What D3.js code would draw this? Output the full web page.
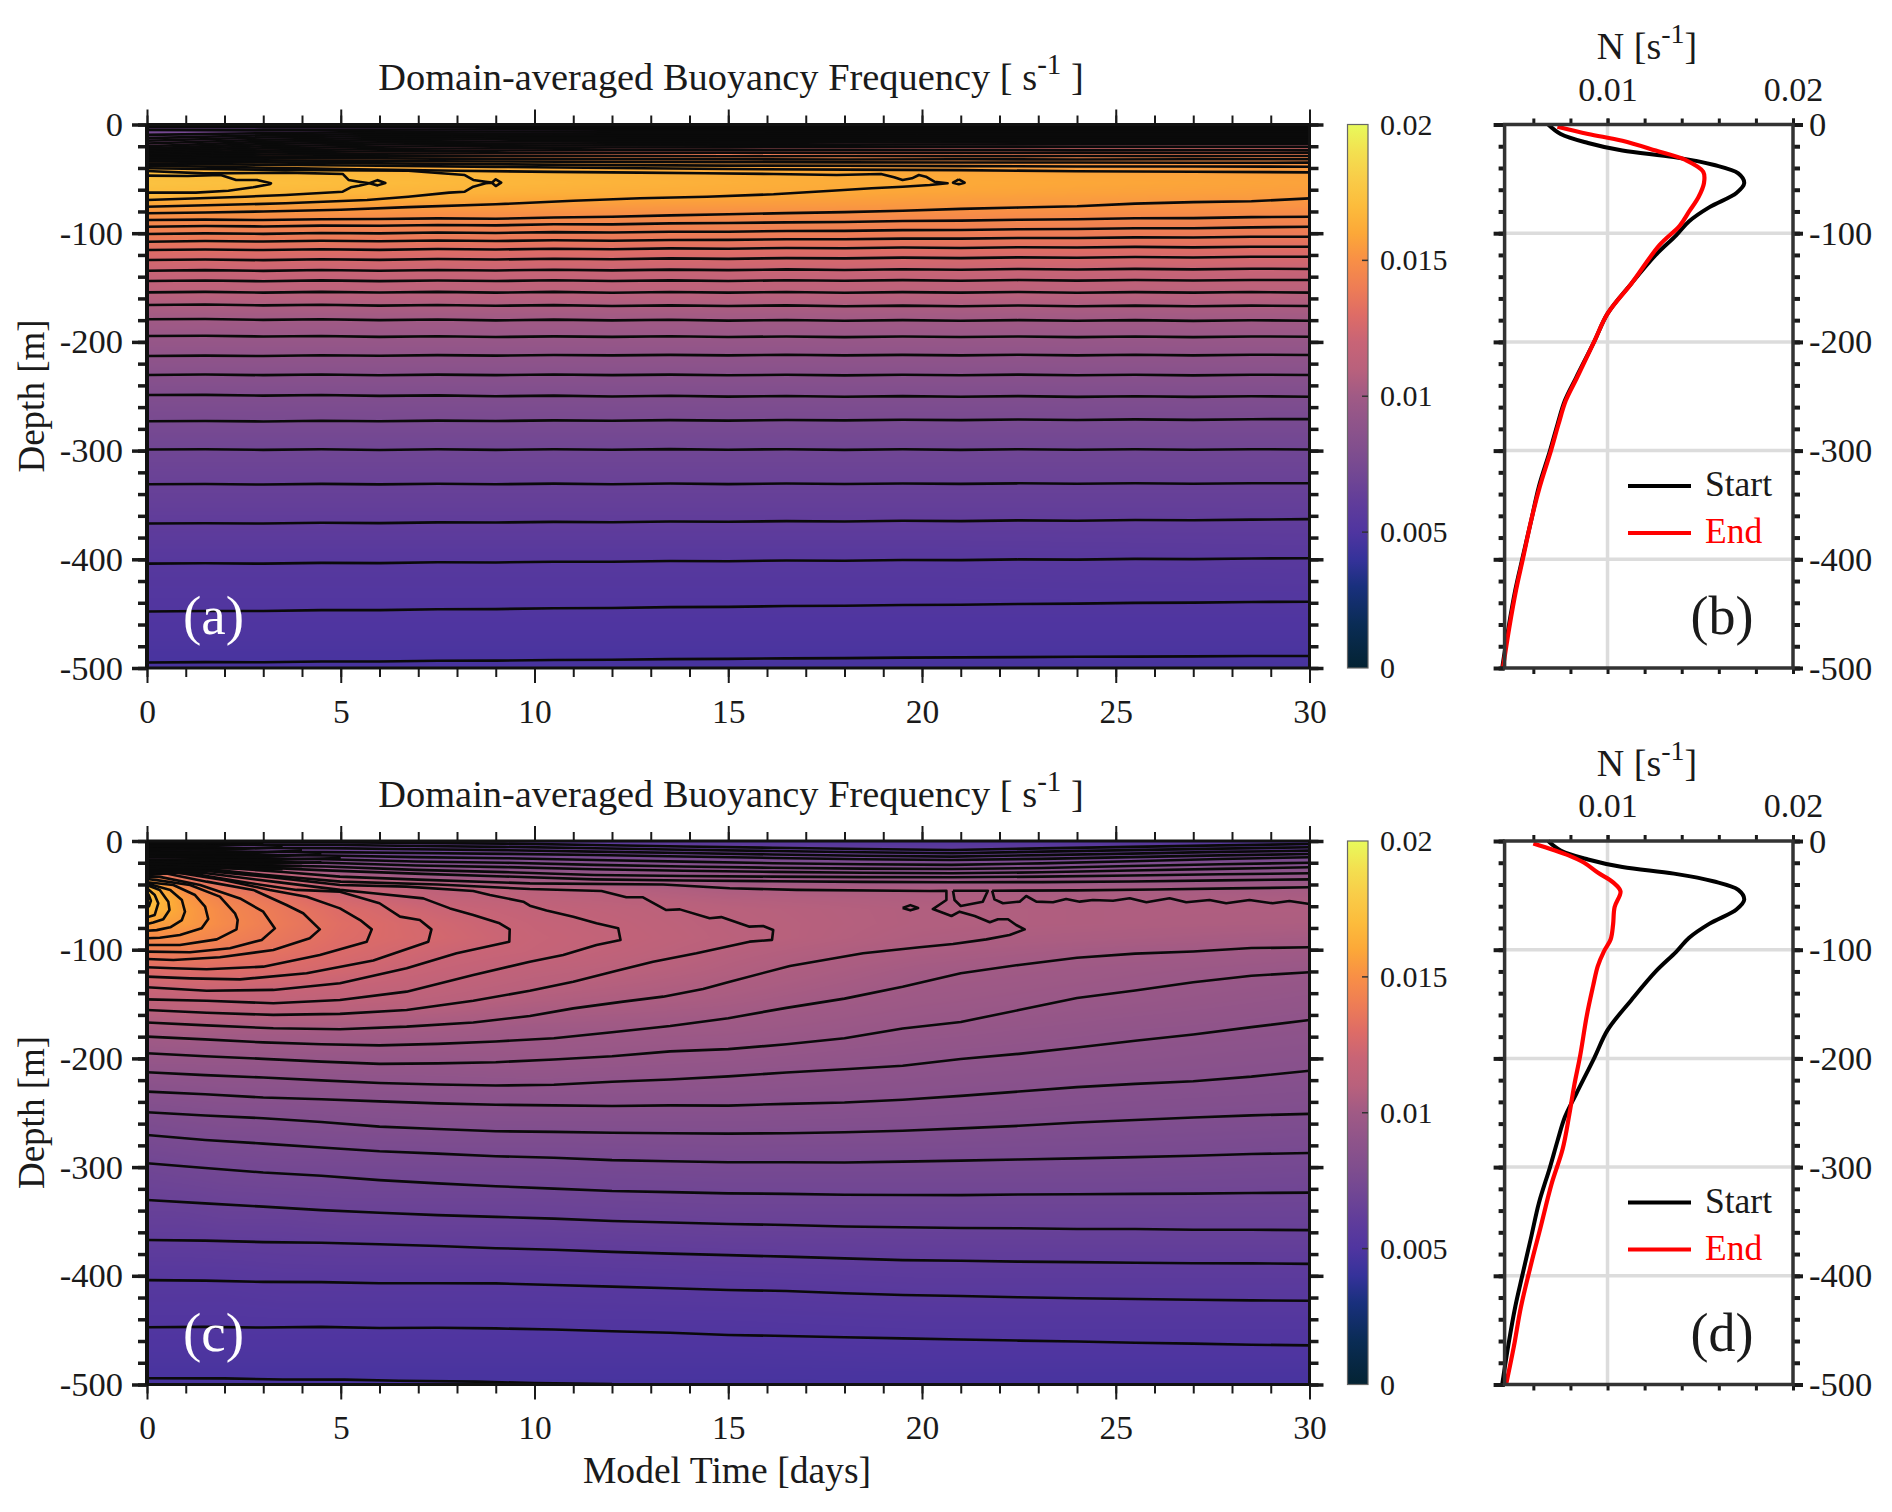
<!DOCTYPE html>
<html>
<head>
<meta charset="utf-8">
<title>Domain-averaged Buoyancy Frequency</title>
<script src="https://d3js.org/d3.v7.min.js"></script>
<style>
body { margin: 0; background: #fff; }
text { font-family: "Liberation Serif", serif; fill: #1a1a1a; }
.ticks path { display: none; }
</style>
</head>
<body>
<script>
// axis ticks
var timeMajor = [0, 5, 10, 15, 20, 25, 30];
var timeMinor = d3.range(0, 31);
var depthMajor = [0, -100, -200, -300, -400, -500];
var depthMinor = d3.range(0, -501, -20);
var cbarTicks = [0, 0.005, 0.01, 0.015, 0.02];
var profileMajor = [0.01, 0.02];
var profileMinor = [0.006, 0.008, 0.01, 0.012, 0.014, 0.016, 0.018, 0.02];

// colours of the colormap, by N
var cmapN = [0, 0.0016, 0.003, 0.004, 0.005, 0.006, 0.007, 0.008, 0.009, 0.01, 0.011, 0.012, 0.013, 0.014, 0.015, 0.016, 0.017, 0.018, 0.019, 0.02];
var cmapColor = ["#042333", "#0a2c55", "#19307d", "#35329a", "#4f35a0", "#5f3c9b", "#704694", "#804e8e", "#8f548a", "#a05a85", "#b9617c", "#c86476", "#de6c66", "#ee7d55", "#f88f46", "#fca838", "#fcbc3c", "#f9cc48", "#f3e050", "#e8fa5b"];

// N field, one array per time, on these depths
var fieldDepths = [0, -10, -17, -24, -30, -37, -45, -54, -63, -76, -89, -102, -120, -146, -174, -200, -250, -300, -350, -400, -450, -500];
var fieldTimesA = [0, 10, 20, 30];
var fieldA0 = [.0068, .0075, .009, .0108, .0136, .0157, .01705, .0174, .017, .0156, .0147, .014, .0128, .0115, .0102, .0094, .008, .007, .0063, .0055, .0051, .0047];
var fieldA10 = [.0066, .0085, .0105, .0128, .0146, .016, .0166, .0167, .0164, .0154, .0146, .0139, .0128, .0115, .0102, .0094, .008, .007, .0063, .0055, .0051, .0047];
var fieldA20 = [.0067, .0092, .0112, .0131, .0146, .0155, .016, .0161, .0159, .0153, .0145, .0139, .0128, .0115, .0102, .0094, .008, .007, .0063, .0055, .0051, .0047];
var fieldA30 = [.007, .0095, .0115, .0133, .0145, .0152, .0157, .0158, .0156, .0151, .0144, .0138, .0127, .0114, .0102, .0094, .008, .007, .0063, .0056, .0051, .0047];

var fieldTimesC = [0, 1, 2, 3.5, 5, 7.5, 10, 15, 20, 25, 30];
var fieldC0 = [.0068, .0075, .009, .0108, .0136, .0157, .01705, .0174, .017, .0156, .0147, .014, .0128, .0115, .0102, .0094, .008, .007, .0063, .0055, .0051, .0047];
var fieldC1 = [.0067, .0078, .0097, .0118, .0128, .0137, .0148, .0154, .0156, .0155, .0148, .014, .0129, .0116, .0103, .0094, .0081, .0071, .0063, .0055, .0051, .0047];
var fieldC2 = [.0066, .0076, .009, .0108, .0119, .0129, .0137, .0143, .0146, .0147, .0143, .0137, .0129, .0116, .0102, .0094, .0082, .0072, .0064, .0055, .0051, .0047];
var fieldC35 = [.0065, .0073, .0084, .0098, .0113, .0123, .013, .0134, .0137, .0138, .0136, .0133, .0127, .0115, .0102, .0094, .0082, .0073, .0064, .0056, .0051, .0047];
var fieldC5 = [.0064, .007, .0079, .0091, .0102, .0113, .0121, .0125, .0129, .0131, .013, .0128, .0124, .0114, .0102, .0094, .0083, .0073, .0065, .0056, .0051, .0047];
var fieldC75 = [.0063, .0068, .0076, .0086, .0095, .0105, .0113, .0117, .0121, .0124, .0125, .0122, .0118, .0111, .0101, .0094, .0084, .0073, .0065, .0056, .0051, .0047];
var fieldC10 = [.0056, .007, .0079, .0087, .0094, .0102, .0111, .0113, .0116, .0118, .0119, .0118, .0113, .0107, .0099, .0095, .0084, .0073, .0065, .0056, .0051, .0047];
var fieldC15 = [.0055, .0067, .0077, .0087, .0093, .0099, .0105, .0108, .011, .01105, .0111, .0109, .0107, .0103, .0098, .0093, .0084, .0074, .0066, .0057, .0051, .0047];
var fieldC20 = [.0052, .0062, .0074, .0083, .009, .0099, .0105, .0106, .0107, .0107, .0106, .0104, .0101, .0098, .0094, .009, .0083, .0074, .0066, .0058, .0052, .0047];
var fieldC25 = [.0052, .0064, .0075, .0084, .009, .0097, .0104, .0105, .0106, .0106, .0104, .0101, .0098, .0095, .0091, .0088, .0081, .0074, .0066, .0058, .0052, .0047];
var fieldC30 = [.0052, .0067, .0077, .0085, .009, .0096, .0102, .0104, .0106, .0105, .0102, .0099, .0095, .0092, .0089, .0086, .008, .0073, .0066, .0058, .0052, .0047];

// panel (a) contour depths, evenly spaced in time over 0-30 days
var contoursA = [
  [-87.9,-87.5,-87.9,-87.1,-86.9,-86.4,-86.7,-85.6,-84.9,-83.6,-82.6,-81.5,-80.6,-79.4,-77.6,-76.4,-75.2,-72.8,-71.4,-70.6,-68],
  [-94,-93.4,-93.8,-93,-93.2,-92.4,-92.8,-91.8,-91.9,-91,-90.6,-90,-89.7,-88.8,-88.4,-87.6,-87.2,-86.3,-86.1,-85.2,-84.8],
  [-100.7,-100.2,-100.6,-99.8,-100.2,-99.4,-99.8,-99,-99.4,-98.6,-98.6,-98,-97.9,-97.2,-97,-96.3,-96.2,-95.4,-95.4,-94.6,-94],
  [-107.8,-107.2,-107.7,-107,-107.4,-106.7,-107.2,-106.5,-106.9,-106.2,-106.1,-105.6,-105.6,-105,-105,-104.4,-104.4,-103.8,-103.9,-103.2,-103.2],
  [-115.5,-115,-115.5,-114.8,-115.3,-114.6,-115,-114.3,-114.8,-114,-114.3,-113.6,-113.9,-113.2,-113.6,-112.9,-113.2,-112.6,-113,-112.4,-112.4],
  [-124.7,-124.2,-124.8,-124,-124.5,-123.8,-124.2,-123.5,-124,-123.2,-123.6,-122.9,-123.2,-122.5,-122.9,-122.2,-122.6,-121.9,-122.3,-121.6,-121.6],
  [-134.5,-134,-134.7,-133.9,-134.5,-133.8,-134.3,-133.6,-134.2,-133.5,-134,-133.3,-133.8,-133.1,-133.6,-132.9,-133.4,-132.8,-133.3,-132.7,-132.9],
  [-144,-143.5,-144.2,-143.4,-144.1,-143.5,-144,-143.3,-144,-143.4,-144,-143.3,-143.8,-143.2,-143.7,-143.1,-143.6,-143,-143.5,-143,-143],
  [-154.4,-154,-154.7,-154,-154.6,-154,-154.7,-154,-154.8,-154.1,-154.7,-154.1,-154.8,-154.2,-154.7,-154.1,-154.8,-154.2,-154.7,-154.1,-154.7],
  [-166,-165.6,-166.4,-165.8,-166.6,-166,-166.8,-166.2,-167,-166.4,-167,-166.4,-167.2,-166.6,-167.2,-166.5,-167.2,-166.6,-167.2,-166.6,-167],
  [-179.2,-178.9,-179.7,-179.2,-180,-179.4,-180.2,-179.5,-180.2,-179.6,-180.4,-179.8,-180.5,-180,-180.6,-180,-180.6,-180,-180.7,-180.1,-180.5],
  [-194.6,-194.3,-195,-194.6,-195.4,-194.8,-195.5,-194.9,-195.4,-194.8,-195.5,-195,-195.6,-195,-195.5,-195,-195.6,-195,-195.6,-195,-195.2],
  [-213,-212.6,-213,-212.3,-212.8,-212.2,-212.6,-212,-212.4,-211.9,-212.4,-211.8,-212.4,-211.9,-212.4,-211.8,-212.4,-211.8,-212.4,-211.8,-212],
  [-230.4,-230,-230.6,-230,-230.7,-230.1,-230.6,-230,-230.6,-230.1,-230.7,-230.2,-230.8,-230.2,-230.7,-230.1,-230.7,-230.2,-230.8,-230.2,-230.4],
  [-248.9,-248.7,-249.4,-248.9,-249.7,-249.2,-250,-249.4,-250.2,-249.6,-250.3,-249.8,-250.5,-249.9,-250.5,-249.9,-250.6,-250,-250.6,-250,-250.4],
  [-273,-272.7,-273.2,-272.5,-273,-272.4,-272.8,-272.2,-272.6,-272,-272.4,-271.8,-272.2,-271.6,-272,-271.4,-271.8,-271.3,-271.7,-271.1,-271],
  [-299,-298.7,-299.3,-298.8,-299.4,-298.8,-299.3,-298.7,-299.2,-298.6,-299.2,-298.7,-299.3,-298.8,-299.3,-298.7,-299.2,-298.7,-299.2,-298.7,-299],
  [-331,-330.7,-331.2,-330.6,-331.1,-330.5,-331,-330.4,-330.9,-330.3,-330.8,-330.2,-330.7,-330.2,-330.6,-330.1,-330.5,-330,-330.5,-330,-330],
  [-367,-366.8,-367.1,-366.4,-366.7,-366,-366.2,-365.6,-365.9,-365.2,-365.5,-364.9,-365.2,-364.6,-364.9,-364.2,-364.5,-363.9,-364.1,-363.5,-363],
  [-404,-403.7,-404,-403.3,-403.5,-402.7,-402.9,-402.2,-402.3,-401.6,-401.8,-401.1,-401.3,-400.6,-400.8,-400.1,-400.3,-399.6,-399.8,-399.2,-399],
  [-448,-447.5,-447.6,-446.8,-446.8,-445.9,-445.8,-445,-444.8,-444,-443.8,-443,-442.8,-442,-441.8,-441.1,-440.8,-440.1,-439.9,-439.3,-439],
  [-495,-494.6,-494.7,-494,-494,-493.3,-493.2,-492.6,-492.4,-491.8,-491.6,-491.1,-490.9,-490.5,-490.2,-490,-489.7,-489.5,-489.3,-489,-489],
  // the tight lines under the surface
  [-36,-37,-38,-39,-40,-41,-41.5,-42,-43,-43.5,-44],
  [-34,-34.8,-35.8,-36.6,-37.4,-37.8,-38,-38.3,-38.6,-38.6,-38.8],
  [-32.5,-33,-33.6,-34,-34.4,-34.6,-34.8,-35,-35,-35.2,-35.1],
  [-31,-31,-31.2,-31.6,-31.8,-32,-32.2,-32,-32.2,-32,-32],
  [-29.8,-29.4,-29,-29,-29,-29.2,-29,-29.2,-29,-29.1,-29],
  [-28.8,-27.6,-26.8,-26.4,-26.2,-26,-26,-26.1,-25.9,-26,-25.9],
  [-27.6,-25.8,-24.6,-24,-23.6,-23.6,-23.4,-23.5,-23.4,-23.5,-23.5],
  [-26.4,-24,-22.6,-21.8,-21.2,-21,-20.8,-20.6,-20.5,-20.4,-20.4],
  [-25,-22,-20.4,-19.6,-19.2,-19,-18.6,-18.4,-18.2,-18,-18],
  [-23.5,-20,-18.4,-17.6,-17.2,-17,-16.6,-16.4,-16.2,-16,-16],
  [-22,-18,-16.4,-15.6,-15.2,-15,-14.8,-14.6,-14.5,-14.5,-14.5],
  [-20,-16,-14.4,-13.6,-13.2,-13.2,-13.1,-13,-13,-13,-13],
  [-17.5,-14,-12.4,-11.8,-11.6,-11.5,-11.5,-11.5,-11.5,-11.5,-11.5],
  [-15,-12,-10.6,-10.2,-10,-10,-10,-10,-10,-10,-10],
  [-12.5,-10,-8.8,-8.4,-8.2,-8.2,-8.2,-8,-8,-8,-8],
  [-9.5,-8,-6.8,-6.4,-6.2,-6.2,-6,-6,-6,-6,-6],
  [-5,-5.4,-4.8,-4.4,-4.2,-4.2,-4,-4,-4,-4,-4],
  [-2.5,-2.6,-2.4,-2.2,-2.2,-2,-2,-2,-2,-2,-2]
];

// panel (a) contours that close, as [day, depth]
var closedA = [
  [[0,-47],[1.05,-47.4],[1.9,-46.5],[2.3,-51],[2.84,-51],[3.2,-54.1],[3.16,-55],[2.74,-57.8],[2.1,-60.9],[1.26,-62.7],[0,-62.7]],
  [[0,-42.8],[1.47,-45],[3.58,-44.3],[5.05,-45.5],[5.2,-51],[5.47,-52.6],[5.74,-54.1],[5.95,-51.2],[6.15,-53.8],[5.95,-56],[5.74,-54.1],[5.47,-56.3],[5.26,-57.8],[5.05,-61.8],[3.58,-64.9],[2.53,-66.4],[0,-69.5]],
  [[0,-40.3],[3.58,-41.9],[6.74,-42.5],[8.2,-46.5],[8.42,-51],[8.74,-52.6],[8.9,-53.5],[9,-50.4],[9.14,-53.5],[9,-56.6],[8.9,-53.5],[8.74,-54.1],[8.42,-57.2],[8.2,-61.8],[7.8,-62.7],[6.74,-66.4],[5.68,-69.5],[3.58,-72.5],[0,-75.6]],
  [[0,-38],[2,-39],[5,-41],[8,-42.6],[10.5,-43.6],[12.7,-44.3],[14.4,-44.9],[16.17,-45.5],[17.8,-46.5],[18.94,-45.5],[19.28,-48.6],[19.5,-51],[19.74,-49.5],[19.92,-46.5],[20.1,-48],[20.32,-52.6],[20.66,-54.1],[20.2,-55.7],[19.5,-57.2],[18.7,-58.7],[17.67,-60.9],[16.17,-64.2],[14.45,-66.4],[12.72,-67.9],[11,-70.2],[9,-73.4],[6.74,-76],[5,-78.4],[3,-80],[1.5,-81],[0,-81.7]],
  [[20.95,-50.5],[21.1,-53.5],[20.95,-55],[20.8,-53.5],[20.95,-50.5]]
];

// panel (c) contours, evenly spaced in time over 0-30 days
var contoursC = [
  [-180,-182.5,-185.3,-187,-188,-186.6,-184.4,-181.5,-176,-170.2,-163,-153.5,-145,-134,-121.6,-114,-107.4,-103.6,-101.6,-98.5,-97.8],
  [-195.3,-198,-200.4,-203,-205,-204.6,-203.5,-201,-198,-193.5,-191.5,-187,-181.5,-172.5,-166.5,-155.5,-144.5,-137.5,-130,-124,-120.8],
  [-212.8,-215.4,-217.6,-220.2,-222.6,-224,-225,-224.2,-221.5,-219.4,-216.5,-213,-210,-206.8,-200.5,-195.8,-190,-183.8,-178,-171.2,-164.7],
  [-230.6,-233,-236,-237.6,-239.5,-241.4,-242.6,-243.2,-243.8,-243.2,-243.4,-241.8,-240.6,-238,-234.5,-230.5,-226.4,-223.4,-221,-216.8,-211.3],
  [-249.6,-252.5,-255,-258.5,-262.8,-265,-267,-267.6,-268.4,-268.8,-269.2,-268.8,-268,-266.6,-264.4,-262,-259,-256.6,-254.4,-252.4,-251],
  [-270.5,-275,-278.4,-282,-285.4,-287.6,-290,-291.4,-293.6,-294.6,-295.6,-295.6,-295.8,-295,-294,-293,-292,-290.8,-289.6,-288,-287],
  [-296.5,-300.8,-305,-308,-312,-315,-317.6,-319.8,-322,-323,-324.2,-324.6,-325.4,-325.6,-325.8,-325.2,-325,-324.6,-324.4,-323.8,-323.5],
  [-330.3,-333.4,-336.4,-339.6,-342,-344.2,-345.8,-347.4,-349.6,-351,-352.4,-353.2,-354.6,-355.4,-356,-356.2,-357,-357,-357.6,-357.6,-358],
  [-367,-367.6,-369,-369.6,-371,-372.6,-374.6,-376,-378,-379.6,-381,-382.4,-384,-385.6,-386.2,-387,-387.4,-388,-388.4,-388.6,-389],
  [-404,-404.4,-405.6,-405.8,-406.8,-406.8,-407,-408.4,-410,-411.4,-413,-414,-416,-417.6,-418.6,-419.8,-420.6,-421.4,-422,-422.6,-423],
  [-447.4,-447,-447.6,-447,-448,-447.8,-448.4,-449.4,-451,-452.4,-454.4,-455.4,-456.6,-457.6,-458.6,-459.6,-460.4,-461.6,-462.4,-463.4,-464],
  // the tight lines under the surface
  [-22,-23.5,-27,-30,-32.6,-35.3,-36.4,-37,-37.6,-38,-37.8,-37.2,-36.2,-35.3],
  [-20,-22,-23.5,-26.6,-28.6,-31.3,-32.2,-32.8,-33.2,-33.4,-32.8,-31.8,-30.6,-29.7],
  [-17.5,-19,-20,-22.6,-24,-26,-27.4,-28.4,-29.2,-29.7,-28.8,-27.2,-25.6,-24.2],
  [-15,-15.8,-16.8,-18.8,-20,-22,-23.4,-24.6,-25.4,-25.8,-24.8,-23,-21.4,-20],
  [-12.5,-12.8,-13.4,-14.8,-15.8,-17.5,-19,-20.4,-21.4,-22,-20.6,-18.6,-16.6,-15],
  [-9.5,-9.8,-10.2,-11,-11.8,-12.9,-14.2,-15.6,-16.8,-17.5,-16.4,-14.8,-13.2,-12],
  [-6,-6.4,-6.6,-7.6,-8.4,-9.8,-11,-12.4,-13.6,-14.4,-13,-11.6,-10,-8.9],
  [-3,-3.4,-3.5,-4.6,-5.4,-6.7,-8,-9.2,-10.4,-11.3,-9.8,-8.4,-7,-5.8],
  [-1,-1,-1,-1.8,-2.4,-3.7,-5,-6.2,-7.4,-8.3,-6.8,-5.4,-4,-2.8]
];

// panel (c) contours that close, as [day, depth]
var closedC = [
  [[0,-47],[0.05,-50],[0.1,-55],[0.05,-60],[0,-62]],
  [[0,-43.5],[0.2,-49.7],[0.29,-57.3],[0.2,-68],[0,-70.2]],
  [[0,-40.5],[0.33,-45],[0.55,-55.8],[0.58,-63.5],[0.42,-72],[0.16,-75],[0,-76.4]],
  [[0,-39],[0.6,-45],[0.9,-54.3],[0.98,-65],[0.9,-72.7],[0.6,-79.4],[0.25,-82],[0,-82.5]],
  [[0,-38],[0.68,-40.5],[1.24,-49.7],[1.5,-60.4],[1.58,-71.8],[1.41,-80.3],[0.85,-86.5],[0.33,-89],[0,-89.5]],
  [[0,-35],[0.25,-36],[1.11,-40.5],[1.88,-51.2],[2.27,-66.5],[2.34,-72.7],[2.31,-81.3],[1.8,-90.5],[0.85,-95.7],[0,-95.7]],
  [[0,-33],[0.33,-33],[1.37,-40.5],[2.4,-52.8],[3,-65],[3.3,-80.4],[2.96,-91],[2.14,-98.7],[1.11,-102.4],[0,-101.8]],
  [[0,-31.5],[0.5,-29.9],[1.54,-37.4],[2.74,-45],[3.6,-58.9],[4.03,-66.5],[4.46,-81.3],[4.2,-89.5],[3.26,-100.3],[1.88,-107],[0.68,-109.5],[0,-108.6]],
  [[0,-30],[0.68,-28.4],[1.97,-35.9],[3.17,-45],[4.12,-51.2],[4.98,-62],[5.5,-72.7],[5.8,-81.3],[5.67,-92.6],[4.46,-104.9],[3,-115.6],[1.54,-118],[0.68,-117],[0,-116.2]],
  [[0,-28.6],[1.11,-29.7],[2.4,-37.4],[3.86,-45],[4.98,-46.6],[6,-57.3],[6.53,-69.6],[7.04,-72.7],[7.34,-81.3],[7.26,-92.6],[5.84,-110],[4.12,-121.7],[2.4,-127.3],[1.11,-126.4],[0,-124.8]],
  [[0,-28],[1.54,-29.7],[3.26,-37.4],[4.98,-45],[5.84,-48],[7.13,-52.8],[7.82,-62],[8.42,-68],[9.1,-75.7],[9.36,-81.3],[9.35,-92.6],[7.99,-103.3],[6.7,-117],[4.98,-130.9],[3.26,-137],[1.54,-137.7],[0,-134.6]],
  [[0,-27],[1.54,-27.5],[3.26,-33.5],[4.98,-40.5],[6.7,-42],[8.42,-46],[8.85,-49.7],[9.71,-55.8],[9.88,-59.5],[10.31,-64],[11,-69.6],[11.6,-75.7],[12.16,-80.3],[12.22,-91],[11.6,-95.7],[10.74,-104.9],[9.88,-111],[8.42,-123.3],[6.7,-138.6],[4.98,-146.3],[3.26,-149.3],[1.54,-146.9],[0,-145.7]],
  [[0,-26],[1.5,-25.5],[3,-31],[5,-37.4],[7.5,-40],[9.88,-44.2],[11.73,-46],[12.37,-51.8],[12.8,-51.8],[13.4,-63.5],[13.75,-62.9],[14.52,-71],[14.82,-70],[15.55,-78.8],[15.9,-78.2],[16.16,-81.9],[16.13,-91],[15.55,-92.6],[14.18,-103.3],[13.06,-111],[12.12,-119.3],[11,-129.4],[9.88,-137.7],[8.42,-147],[6.7,-155.5],[4.98,-159],[3.26,-160],[1.54,-158],[0,-155.5]],
  [[0,-25],[2,-24.5],[3.5,-28.5],[4.98,-32.8],[7,-35.5],[9.88,-39],[13.32,-40],[15.04,-43.5],[16.76,-45],[20.2,-46],[20.63,-45.7],[20.63,-54.3],[20.28,-62.6],[20.76,-69],[20.97,-65],[21.36,-69],[21.75,-74.8],[21.96,-72],[22.22,-72],[22.43,-77.3],[22.65,-81.3],[22.26,-86.5],[21.66,-90.5],[20.8,-94.8],[19.94,-97.8],[18.48,-103.3],[16.59,-115],[15.04,-129.4],[14.35,-136.2],[13.32,-143.2],[12.29,-147.8],[11,-154],[9.88,-161],[8.42,-167],[6.7,-170.8],[4.98,-173.2],[3.26,-172.3],[1.54,-169.6],[0,-167]],
  [[20.8,-45.7],[21.7,-45.7],[21.57,-55.8],[21,-59.8],[20.84,-54.3],[20.8,-45.7]],
  [[21.81,-45.7],[21.87,-53.7],[22.09,-57.3],[22.52,-55.8],[22.69,-50.6],[22.95,-55.8],[23.38,-56.4],[23.72,-53.4],[24.07,-55.8],[24.41,-54.3],[24.93,-54.9],[25.36,-52.7],[25.79,-56.4],[26.39,-52.7],[26.82,-56.4],[27.42,-54.3],[27.85,-57.3],[28.45,-54.3],[29.05,-57.3],[29.48,-55.2],[30,-58]],
  [[21.81,-45.7],[24,-45.4],[26,-44.6],[28,-43.6],[30,-42.6]],
  [[19.5,-61.6],[19.7,-59],[19.9,-61.6],[19.7,-63.8],[19.5,-61.6]],
  [[0,-494.3],[2,-494.4],[3.5,-495.4],[5.1,-495.5],[6.5,-496.6],[8.5,-497.4],[10,-498.6],[12,-499.6]],
  // short lines packed into the black corner at the top left
  [[0,-2],[1.5,-2],[3,-1.2]],
  [[0,-4.5],[1.5,-4.8],[3,-2.8]],
  [[0,-7.5],[2,-8],[3.5,-5.6]],
  [[0,-11],[2.5,-11.5],[4,-8.6]],
  [[0,-14],[3,-14.6],[4.5,-12]],
  [[0,-17],[3,-17.6],[5,-15.6]],
  [[0,-19],[3,-21],[4.5,-19.6]],
  [[0,-21],[3,-24],[4,-23]],
  [[0,-23.5],[2.5,-25.5],[3.5,-26]]
];

// profiles of panels (b) and (d)
var startDepth = [0,-8.7,-17,-24,-30,-37,-45,-54,-63,-76,-89,-102,-120,-146,-174,-199,-233,-254,-276,-300,-333,-363,-400,-428,-463,-500];
var startN = [.0068,.00747,.00895,.0108,.01358,.0157,.01705,.01737,.01695,.0155,.0144,.0137,.0126,.0113,.01,.0093,.0083,.0077,.0073,.0069,.0063,.0059,.0054,.00503,.00466,.00432];
var endDepthB = [-2,-8.7,-15,-24,-32.6,-43.5,-54,-67,-80,-93,-111,-146,-174,-199,-233,-254,-276,-300,-333,-363,-400,-428,-463,-500];
var endNB = [.0073,.00895,.0108,.0126,.0142,.01516,.0152,.0149,.0144,.0139,.0128,.0113,.01,.0093,.00835,.00775,.00735,.00695,.00635,.0059,.00543,.00507,.0047,.00436];
var endDepthD = [-2.3,-13.2,-20,-29,-38,-46.3,-60.9,-76.7,-90.4,-101.7,-115.3,-133.5,-160.8,-197,-224.3,-251.6,-283.4,-315,-356,-387.8,-428.7,-465,-500];
var endND = [.006,.0079,.00874,.00947,.0103,.0107,.01038,.0103,.01017,.0098,.00947,.00922,.00888,.00853,.00821,.00794,.00758,.00699,.00638,.0059,.00533,.00495,.00453];

var svgWidth = 1892;
var svgHeight = 1512;
var panelShift = 716.5;   // the lower row is the upper row moved down by this
var plotLeft = 147, plotRight = 1309.5, plotTop = 124.5, plotBottom = 668;
var cbarLeft = 1347.5, cbarRight = 1368;
var profLeft = 1504.6, profRight = 1793;

var svg = d3.select("body").append("svg")
  .attr("width", svgWidth).attr("height", svgHeight)
  .style("display", "block");

var defs = svg.append("defs");
defs.append("clipPath").attr("id", "plotClip")
  .append("rect").attr("x", plotLeft).attr("y", plotTop)
  .attr("width", plotRight - plotLeft).attr("height", plotBottom - plotTop);

var colorScale = d3.scaleLinear().domain(cmapN).range(cmapColor).clamp(true);

var xTime = d3.scaleLinear().domain([0, 30]).range([plotLeft, plotRight]);
var yDepth = d3.scaleLinear().domain([0, -500]).range([plotTop, plotBottom]);
var xProf = d3.scaleLinear().domain([0.00445, 0.02]).range([profLeft, profRight]);
var yCbar = d3.scaleLinear().domain([0, 0.02]).range([plotBottom, plotTop]);

var lut = d3.range(1024).map(function(i) {
  return d3.rgb(colorScale(i / 1023 * 0.02));
});

// paint the field into a picture through the scales
function fieldImage(columns, times) {
  var w = Math.round(plotRight - plotLeft), h = Math.round(plotBottom - plotTop);
  var canvas = document.createElement("canvas");
  canvas.width = w; canvas.height = h;
  var ctx = canvas.getContext("2d");
  var img = ctx.createImageData(w, h);
  var byDepth = columns.map(function(col) {
    return d3.scaleLinear().domain(fieldDepths).range(col);
  });
  for (var j = 0; j < h; j++) {
    var z = yDepth.invert(plotTop + j + 0.5);
    var rowVals = byDepth.map(function(s) { return s(z); });
    var byTime = d3.scaleLinear().domain(times).range(rowVals);
    for (var i = 0; i < w; i++) {
      var v = byTime(xTime.invert(plotLeft + i + 0.5));
      var c = lut[Math.max(0, Math.min(1023, Math.round(v / 0.02 * 1023)))];
      var k = (j * w + i) * 4;
      img.data[k] = c.r; img.data[k + 1] = c.g; img.data[k + 2] = c.b; img.data[k + 3] = 255;
    }
  }
  ctx.putImageData(img, 0, 0);
  return canvas.toDataURL();
}

var contourLine = d3.line()
  .x(function(d) { return xTime(d[0]); })
  .y(function(d) { return yDepth(d[1]); });

var profileLine = d3.line()
  .x(function(d) { return xProf(d[0]); })
  .y(function(d) { return yDepth(d[1]); })
  .curve(d3.curveCatmullRom);

function evenly(depths) {
  return depths.map(function(z, i) { return [i * 30 / (depths.length - 1), z]; });
}

// one pair of axes: minor and major ticks, labels optional
function ticksOn(g, axisFn, scale, values, size, width, format) {
  var a = g.append("g").attr("class", "ticks").call(
    axisFn(scale).tickValues(values).tickSize(size)
      .tickFormat(format || function() { return ""; })
  );
  a.selectAll("line").attr("stroke", "#1a1a1a").attr("stroke-width", width);
  return a;
}

function mainPanel(g, columns, times, lines, closed, tag) {
  g.append("image").attr("x", plotLeft).attr("y", plotTop)
    .attr("width", Math.round(plotRight - plotLeft)).attr("height", Math.round(plotBottom - plotTop))
    .attr("preserveAspectRatio", "none")
    .attr("href", fieldImage(columns, times));

  var contours = g.append("g").attr("clip-path", "url(#plotClip)")
    .attr("fill", "none").attr("stroke", "#0a0a0a").attr("stroke-width", 2.6)
    .attr("stroke-linejoin", "round");
  contours.selectAll(".open").data(lines).enter().append("path")
    .attr("class", "open").attr("d", function(d) { return contourLine(evenly(d)); });
  contours.selectAll(".closed").data(closed).enter().append("path")
    .attr("class", "closed").attr("d", function(d) { return contourLine(d); });

  // title
  var title = g.append("text").attr("x", 731).attr("y", 90)
    .attr("text-anchor", "middle").style("font-size", "38.4px");
  title.append("tspan").text("Domain-averaged Buoyancy Frequency [ s");
  title.append("tspan").attr("dy", -16).style("font-size", "29px").text("-1");
  title.append("tspan").attr("dy", 16).text(" ]");

  g.append("text").attr("transform", "translate(44,396) rotate(-90)")
    .attr("text-anchor", "middle").style("font-size", "37px").text("Depth [m]");

  // frame and ticks
  var top = g.append("g").attr("transform", "translate(0," + plotTop + ")");
  var bottom = g.append("g").attr("transform", "translate(0," + plotBottom + ")");
  var left = g.append("g").attr("transform", "translate(" + plotLeft + ",0)");
  var right = g.append("g").attr("transform", "translate(" + plotRight + ",0)");

  ticksOn(top, d3.axisTop, xTime, timeMinor, 9, 2);
  ticksOn(top, d3.axisTop, xTime, timeMajor, 15, 2);
  ticksOn(bottom, d3.axisBottom, xTime, timeMinor, 9, 2);
  var xLabels = ticksOn(bottom, d3.axisBottom, xTime, timeMajor, 15, 2, function(d) { return d; });
  xLabels.selectAll("text").attr("y", 31).attr("dy", "0.71em").style("font-size", "33.5px").attr("fill", null);

  ticksOn(left, d3.axisLeft, yDepth, depthMinor, 9, 3.5);
  var yLabels = ticksOn(left, d3.axisLeft, yDepth, depthMajor, 15, 3.5, function(d) { return String(d); });
  yLabels.selectAll("text").attr("x", -24).attr("dy", "0.32em").style("font-size", "34.5px").attr("fill", null);
  ticksOn(right, d3.axisRight, yDepth, depthMinor, 9, 3.5);
  ticksOn(right, d3.axisRight, yDepth, depthMajor, 14, 3.5);

  g.append("path")
    .attr("d", "M" + plotLeft + "," + plotTop + "H" + plotRight)
    .attr("stroke", "#111").attr("stroke-width", 3);
  g.append("path")
    .attr("d", "M" + plotLeft + "," + plotBottom + "H" + plotRight)
    .attr("stroke", "#111").attr("stroke-width", 3);
  g.append("path")
    .attr("d", "M" + plotLeft + "," + plotTop + "V" + plotBottom)
    .attr("stroke", "#111").attr("stroke-width", 4);
  g.append("path")
    .attr("d", "M" + plotRight + "," + plotTop + "V" + plotBottom)
    .attr("stroke", "#111").attr("stroke-width", 3);

  // panel letter
  g.append("text").attr("x", 213.5).attr("y", 634).attr("text-anchor", "middle")
    .style("font-size", "55px").style("fill", "#fff").text(tag);

  // colorbar
  var grad = "cbarGrad" + tag.charAt(1);
  defs.append("linearGradient").attr("id", grad)
    .attr("x1", 0).attr("x2", 0).attr("y1", 1).attr("y2", 0)
    .selectAll("stop").data(cmapN).enter().append("stop")
    .attr("offset", function(d) { return d / 0.02; })
    .attr("stop-color", function(d) { return colorScale(d); });
  g.append("rect").attr("x", cbarLeft).attr("y", plotTop)
    .attr("width", cbarRight - cbarLeft).attr("height", plotBottom - plotTop)
    .attr("fill", "url(#" + grad + ")").attr("stroke", "#666").attr("stroke-width", 1.2);
  var cbar = g.append("g").attr("class", "ticks")
    .attr("transform", "translate(" + cbarRight + ",0)")
    .call(d3.axisRight(yCbar).tickValues(cbarTicks).tickSize(0)
      .tickFormat(function(d) { return String(d); }));
  cbar.selectAll("text").attr("x", 12).attr("dy", "0.32em").style("font-size", "30px").attr("fill", null);
  g.selectAll(".cbarTick").data(cbarTicks.slice(1, 4)).enter().append("line")
    .attr("class", "cbarTick")
    .attr("x1", cbarRight).attr("x2", cbarRight - 6)
    .attr("y1", function(d) { return yCbar(d); }).attr("y2", function(d) { return yCbar(d); })
    .attr("stroke", "#333").attr("stroke-width", 1.5);
}

function profilePanel(g, endN, endDepth, tag) {
  var grid = g.append("g").attr("stroke", "#dcdcdc").attr("stroke-width", 3.5);
  grid.selectAll(".gx").data([0.01]).enter().append("line").attr("class", "gx")
    .attr("x1", function(d) { return xProf(d); }).attr("x2", function(d) { return xProf(d); })
    .attr("y1", plotTop).attr("y2", plotBottom);
  grid.selectAll(".gy").data(depthMajor.slice(1, 5)).enter().append("line").attr("class", "gy")
    .attr("x1", profLeft).attr("x2", profRight)
    .attr("y1", function(d) { return yDepth(d); }).attr("y2", function(d) { return yDepth(d); });

  g.append("path").datum(d3.zip(startN, startDepth))
    .attr("d", profileLine).attr("fill", "none").attr("stroke", "#000").attr("stroke-width", 4);
  g.append("path").datum(d3.zip(endN, endDepth))
    .attr("d", profileLine).attr("fill", "none").attr("stroke", "#f00").attr("stroke-width", 4.2);

  var top = g.append("g").attr("transform", "translate(0," + plotTop + ")");
  var bottom = g.append("g").attr("transform", "translate(0," + plotBottom + ")");
  var left = g.append("g").attr("transform", "translate(" + profLeft + ",0)");
  var right = g.append("g").attr("transform", "translate(" + profRight + ",0)");

  ticksOn(top, d3.axisTop, xProf, profileMinor, 6, 3);
  var topLabels = ticksOn(top, d3.axisTop, xProf, profileMajor, 6, 3, function(d) { return String(d); });
  topLabels.selectAll("text").attr("y", -24).attr("dy", 0).style("font-size", "34px").attr("fill", null);
  ticksOn(bottom, d3.axisBottom, xProf, profileMinor, 6, 3);
  ticksOn(left, d3.axisLeft, yDepth, depthMinor, 6, 4);
  ticksOn(left, d3.axisLeft, yDepth, depthMajor, 11, 4);
  ticksOn(right, d3.axisRight, yDepth, depthMinor, 7, 4);
  var rightLabels = ticksOn(right, d3.axisRight, yDepth, depthMajor, 10, 4, function(d) { return String(d); });
  rightLabels.selectAll("text").attr("x", 16).attr("dy", "0.32em").style("font-size", "34.5px").attr("fill", null);

  g.append("rect").attr("x", profLeft).attr("y", plotTop)
    .attr("width", profRight - profLeft).attr("height", plotBottom - plotTop)
    .attr("fill", "none").attr("stroke", "#333").attr("stroke-width", 3.5);

  var xlabel = g.append("text").attr("x", 1647).attr("y", 59)
    .attr("text-anchor", "middle").style("font-size", "38px");
  xlabel.append("tspan").text("N [s");
  xlabel.append("tspan").attr("dy", -16).style("font-size", "28px").text("-1");
  xlabel.append("tspan").attr("dy", 16).text("]");

  // legend
  g.append("line").attr("x1", 1628).attr("x2", 1691).attr("y1", 486).attr("y2", 486)
    .attr("stroke", "#000").attr("stroke-width", 4.2);
  g.append("line").attr("x1", 1628).attr("x2", 1691).attr("y1", 533).attr("y2", 533)
    .attr("stroke", "#f00").attr("stroke-width", 4.2);
  g.append("text").attr("x", 1705).attr("y", 496).style("font-size", "35.5px").text("Start");
  g.append("text").attr("x", 1705).attr("y", 543).style("font-size", "35.5px").style("fill", "#f00").text("End");

  g.append("text").attr("x", 1722).attr("y", 634).attr("text-anchor", "middle")
    .style("font-size", "54px").text(tag);
}

var rowTop = svg.append("g");
var rowBottom = svg.append("g").attr("transform", "translate(0," + panelShift + ")");

mainPanel(rowTop, [fieldA0, fieldA10, fieldA20, fieldA30], fieldTimesA, contoursA, closedA, "(a)");
mainPanel(rowBottom, [fieldC0, fieldC1, fieldC2, fieldC35, fieldC5, fieldC75, fieldC10, fieldC15, fieldC20, fieldC25, fieldC30], fieldTimesC, contoursC, closedC, "(c)");
profilePanel(rowTop, endNB, endDepthB, "(b)");
profilePanel(rowBottom, endND, endDepthD, "(d)");

rowBottom.append("text").attr("x", 727).attr("y", 766).attr("text-anchor", "middle")
  .style("font-size", "37.6px").text("Model Time [days]");
</script>
</body>
</html>
